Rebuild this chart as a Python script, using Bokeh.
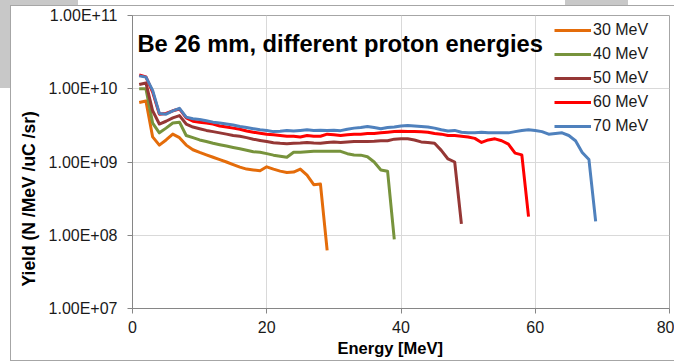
from bokeh.embed import file_html
from bokeh.models import (CustomJSTickFormatter, FixedTicker, Label, Legend,
                          LegendItem, Range1d, Title)
from bokeh.plotting import figure
from bokeh.resources import INLINE

# Neutron yield spectra behind a 26 mm Be target, one curve per proton energy
energy_30 = list(range(1, 30))
yield_30 = [6.5e9, 6.8e9, 2.2e9, 1.7e9, 2.0e9, 2.4e9, 2.15e9, 1.7e9, 1.47e9, 1.35e9,
            1.25e9, 1.16e9, 1.08e9, 1.0e9, 9.2e8, 8.5e8, 8.0e8, 7.8e8, 7.6e8, 8.6e8,
            8.0e8, 7.5e8, 7.2e8, 7.3e8, 8.0e8, 6.6e8, 4.9e8, 5.0e8, 6.2e7]

energy_40 = list(range(1, 40))
yield_40 = [1.0e10, 1.0e10, 3.4e9, 2.5e9, 2.9e9, 3.4e9, 3.5e9, 2.3e9, 2.15e9, 2.0e9,
            1.9e9, 1.8e9, 1.72e9, 1.65e9, 1.58e9, 1.52e9, 1.45e9, 1.38e9, 1.36e9, 1.3e9,
            1.24e9, 1.2e9, 1.16e9, 1.36e9, 1.36e9, 1.38e9, 1.4e9, 1.4e9, 1.4e9, 1.4e9,
            1.4e9, 1.3e9, 1.25e9, 1.24e9, 1.18e9, 1.0e9, 7.8e8, 7.5e8, 8.8e7]

energy_50 = list(range(1, 50))
yield_50 = [1.14e10, 1.2e10, 5.0e9, 3.3e9, 3.6e9, 4.0e9, 4.3e9, 3.3e9, 3.0e9, 2.85e9,
            2.7e9, 2.6e9, 2.5e9, 2.4e9, 2.3e9, 2.25e9, 2.15e9, 2.05e9, 1.97e9, 1.9e9,
            1.83e9, 1.8e9, 1.78e9, 1.8e9, 1.82e9, 1.85e9, 1.82e9, 1.8e9, 1.85e9, 1.88e9,
            1.85e9, 1.88e9, 1.9e9, 1.9e9, 1.9e9, 1.92e9, 1.95e9, 1.95e9, 2.05e9, 2.07e9,
            2.07e9, 2.0e9, 1.88e9, 1.85e9, 1.8e9, 1.44e9, 1.1e9, 1.0e9, 1.43e8]

energy_60 = list(range(1, 60))
yield_60 = [1.55e10, 1.45e10, 9.0e9, 4.5e9, 4.6e9, 5.0e9, 5.3e9, 4.0e9, 3.6e9, 3.5e9,
            3.4e9, 3.3e9, 3.1e9, 3.0e9, 2.9e9, 2.8e9, 2.65e9, 2.55e9, 2.47e9, 2.4e9,
            2.35e9, 2.3e9, 2.25e9, 2.25e9, 2.2e9, 2.3e9, 2.25e9, 2.25e9, 2.4e9, 2.35e9,
            2.3e9, 2.35e9, 2.4e9, 2.4e9, 2.45e9, 2.45e9, 2.5e9, 2.55e9, 2.6e9, 2.63e9,
            2.6e9, 2.6e9, 2.58e9, 2.55e9, 2.45e9, 2.4e9, 2.3e9, 2.3e9, 2.25e9, 2.2e9,
            2.1e9, 1.85e9, 2.0e9, 2.07e9, 1.95e9, 1.75e9, 1.32e9, 1.25e9, 1.8e8]

energy_70 = list(range(1, 70))
yield_70 = [1.5e10, 1.44e10, 9.5e9, 4.6e9, 4.5e9, 5.0e9, 5.4e9, 4.1e9, 3.9e9, 3.8e9,
            3.65e9, 3.5e9, 3.4e9, 3.3e9, 3.2e9, 3.05e9, 2.95e9, 2.85e9, 2.75e9, 2.7e9,
            2.6e9, 2.62e9, 2.7e9, 2.65e9, 2.7e9, 2.75e9, 2.7e9, 2.72e9, 2.7e9, 2.72e9,
            2.68e9, 2.8e9, 2.9e9, 2.95e9, 3.05e9, 2.95e9, 2.85e9, 2.95e9, 3.0e9, 3.1e9,
            3.15e9, 3.1e9, 3.05e9, 3.0e9, 2.9e9, 2.75e9, 2.65e9, 2.7e9, 2.55e9, 2.5e9,
            2.5e9, 2.55e9, 2.5e9, 2.5e9, 2.5e9, 2.5e9, 2.6e9, 2.7e9, 2.75e9, 2.7e9,
            2.6e9, 2.4e9, 2.45e9, 2.5e9, 2.3e9, 1.95e9, 1.35e9, 1.08e9, 1.55e8]

series_labels = ["30 MeV", "40 MeV", "50 MeV", "60 MeV", "70 MeV"]
series_colors = ["#E46C0A", "#77933C", "#953735", "#FF0000", "#4F81BD"]
x_ticks = [0, 20, 40, 60, 80]
y_ticks = [1e7, 1e8, 1e9, 1e10, 1e11]

FONT = "Liberation Sans"
W, H = 674, 362

p = figure(width=W, height=H, y_axis_type="log",
           x_range=Range1d(0, 80), y_range=Range1d(1e7, 1e11),
           output_backend="svg", toolbar_location=None,
           min_border_left=132, min_border_right=5,
           min_border_top=15, min_border_bottom=54,
           background_fill_color="white", border_fill_color=None)

# sheet strips and the chart's outer frame, painted behind the transparent canvas
grey, edge = "#c8c8c8", "#a6a6a6"
layers = [
    f"linear-gradient({grey},{grey}) 0px 0px / 78px 5px no-repeat",
    f"linear-gradient({grey},{grey}) 0px 0px / 10px 88px no-repeat",
    f"linear-gradient({grey},{grey}) 565px 0px / 63px 5px no-repeat",
    f"linear-gradient({edge},{edge}) 10px 5px / 1px 356px no-repeat",
    f"linear-gradient({edge},{edge}) 10px 5px / 664px 1px no-repeat",
    f"linear-gradient({edge},{edge}) 10px 360px / 664px 1px no-repeat",
    "#ffffff",
]
p.styles = {"background": ", ".join(layers)}

# axes
for ax in (p.xaxis[0], p.yaxis[0]):
    ax.axis_line_color = "#868686"
    ax.major_tick_line_color = "#868686"
    ax.major_tick_out = 5
    ax.major_tick_in = 0
    ax.minor_tick_line_color = None
    ax.major_label_text_font = FONT
    ax.major_label_text_font_size = "16px"
    ax.major_label_text_color = "#1a1a1a"

p.xaxis.ticker = FixedTicker(ticks=x_ticks)
p.xaxis.major_label_standoff = 7
p.yaxis.ticker = FixedTicker(ticks=y_ticks)
p.yaxis.major_label_standoff = 10
p.yaxis.formatter = CustomJSTickFormatter(code="""
const parts = tick.toExponential(2).split('e');
const e = parseInt(parts[1]);
return parts[0] + 'E' + (e < 0 ? '-' : '+') + String(Math.abs(e)).padStart(2, '0');
""")

p.xgrid.grid_line_color = "#d9d9d9"
p.ygrid.grid_line_color = "#d9d9d9"
p.outline_line_color = edge

# curves
xs = [energy_30, energy_40, energy_50, energy_60, energy_70]
ys = [yield_30, yield_40, yield_50, yield_60, yield_70]
items = []
for ex, yy, lab, col in zip(xs, ys, series_labels, series_colors):
    r = p.line(ex, yy, line_color=col, line_width=3, line_join="round")
    items.append(LegendItem(label=lab, renderers=[r]))

legend = Legend(items=items, location=(422, 172),
                background_fill_alpha=0, border_line_color=None,
                padding=0, margin=0, spacing=4,
                glyph_width=37, glyph_height=20, label_height=20,
                label_standoff=2,
                label_text_font=FONT, label_text_font_size="16px",
                label_text_color="#1a1a1a")
p.add_layout(legend)

# chart title inside the plot area (canvas units, measured from the top-left)
p.add_layout(Label(x=137, y=43, x_units="canvas", y_units="canvas",
                   text="Be 26 mm, different proton energies",
                   text_font=FONT, text_font_style="bold",
                   text_font_size="23.7px", text_color="black",
                   text_baseline="middle", text_align="left"))

# axis titles as side panels
p.add_layout(Title(text="Energy [MeV]", align="left", offset=205,
                   vertical_align="bottom", standoff=2,
                   text_font=FONT, text_font_style="bold",
                   text_font_size="16.5px", text_color="black"), "below")
p.add_layout(Title(text="Yield (N /MeV /uC /sr)", align="left", offset=22,
                   vertical_align="bottom", standoff=14,
                   text_font=FONT, text_font_style="bold",
                   text_font_size="17.5px", text_color="black"), "left")

open("out.html", "w").write(file_html(p, INLINE))
